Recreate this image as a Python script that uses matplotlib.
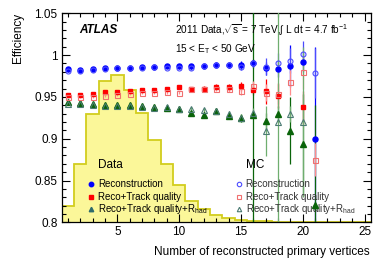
import numpy as np
import matplotlib
matplotlib.use('Agg')
import matplotlib.pyplot as plt
from matplotlib.ticker import MultipleLocator

plt.rcParams['font.family'] = ['Liberation Sans', 'DejaVu Sans']
plt.rcParams['mathtext.fontset'] = 'custom'
plt.rcParams['mathtext.rm'] = 'Liberation Sans'
plt.rcParams['mathtext.it'] = 'Liberation Sans:italic'

# --- DATA ---
nvtx = np.arange(1, 22)

data_reco = [0.983, 0.9826, 0.9835, 0.984, 0.9846, 0.985, 0.986, 0.986, 0.9864, 0.9866, 0.9866,
             0.987, 0.9886, 0.988, 0.9886, 0.990, 0.984, 0.9835, 0.9874, 0.9918, 0.900]
data_reco_err = [0.001, 0.001, 0.001, 0.001, 0.001, 0.001, 0.001, 0.001, 0.001, 0.0015, 0.0015,
                 0.002, 0.002, 0.003, 0.004, 0.005, 0.008, 0.010, 0.025, 0.012, 0.11]
mc_reco = [0.981, 0.981, 0.982, 0.983, 0.984, 0.984, 0.985, 0.986, 0.985, 0.985, 0.984,
           0.987, 0.9886, 0.988, 0.986, 0.990, 0.986, 0.990, 0.9934, 1.0014, 0.979]
mc_reco_err = [0.001, 0.001, 0.001, 0.001, 0.001, 0.001, 0.001, 0.001, 0.001, 0.002, 0.002,
               0.002, 0.003, 0.003, 0.004, 0.004, 0.010, 0.012, 0.015, 0.015, 0.03]

data_trk = [0.9518, 0.952, 0.954, 0.956, 0.956, 0.9566, 0.9578, 0.9586, 0.959, 0.9614, 0.9595,
            0.960, 0.9622, 0.9614, 0.9626, 0.958, 0.9566, 0.9514, np.nan, 0.9374, np.nan]
data_trk_err = [0.001, 0.001, 0.001, 0.001, 0.001, 0.001, 0.001, 0.001, 0.0015, 0.002, 0.002,
                0.003, 0.003, 0.004, 0.005, 0.006, 0.015, 0.015, 0.0, 0.02, 0.0]
mc_trk = [0.9494, 0.950, 0.950, 0.951, 0.952, 0.9535, 0.955, 0.955, 0.956, 0.955, 0.9595,
          0.960, 0.960, 0.960, 0.957, 0.963, 0.955, 0.9535, 0.9674, 0.9799, 0.875]
mc_trk_err = [0.001, 0.001, 0.001, 0.001, 0.001, 0.001, 0.001, 0.001, 0.002, 0.002, 0.002,
              0.003, 0.003, 0.004, 0.005, 0.006, 0.010, 0.012, 0.015, 0.02, 0.02]

data_rhad = [0.9434, 0.9426, 0.9418, 0.9406, 0.940, 0.940, 0.9386, 0.938, 0.9367, 0.9355, 0.9307,
             0.9287, 0.9326, 0.9275, 0.9247, 0.9287, 0.9206, 0.9295, 0.9098, 0.8939, 0.8207]
data_rhad_err = [0.001, 0.001, 0.001, 0.001, 0.001, 0.001, 0.001, 0.001, 0.0015, 0.002, 0.002,
                 0.002, 0.003, 0.004, 0.005, 0.25, 0.010, 0.010, 0.04, 0.06, 0.12]
mc_rhad = [0.942, 0.941, 0.940, 0.939, 0.939, 0.939, 0.938, 0.937, 0.9385, 0.936, 0.936,
           0.934, 0.933, 0.929, 0.925, 0.931, 0.9095, 0.920, 0.9295, 0.920, np.nan]
mc_rhad_err = [0.001, 0.001, 0.001, 0.001, 0.001, 0.001, 0.001, 0.001, 0.002, 0.002, 0.002,
               0.003, 0.003, 0.004, 0.005, 0.006, 0.03, 0.25, 0.01, 0.09, 0.0]

# primary vertex distribution in data (arbitrary units, drawn on top of y = 0.8)
vtx_edges = np.arange(0.5, 26.0, 1.0)
vtx_dist = [0.0196, 0.070, 0.1295, 0.1694, 0.1758, 0.1586, 0.1307, 0.098, 0.070, 0.0447,
            0.026, 0.016, 0.009, 0.005, 0.003, 0.0015, 0.001, 0.0007, 0.0005, 0.0003,
            0.0002, 0.0001, 0.0001, 0.0, 0.0]
Y0 = 0.8

fig = plt.figure(figsize=(3.9, 2.65), dpi=100)
ax = fig.add_axes([61.7/390, 42.7/265, 309/390, 209/265])

ax.stairs(np.array(vtx_dist) + Y0, vtx_edges, baseline=Y0, fill=True,
          color='#fbf799', zorder=1)
ax.stairs(np.array(vtx_dist) + Y0, vtx_edges, baseline=Y0, fill=False,
          color='#d2cd1e', lw=1.3, zorder=1.1)

ms = 3.6
ebkw = dict(capsize=0, elinewidth=0.9, linestyle='none', zorder=3)

# data
ax.errorbar(nvtx, data_reco, yerr=data_reco_err, fmt='o', color='#0000ff', ms=ms, **ebkw)
ax.errorbar(nvtx, data_trk, yerr=data_trk_err, fmt='s', color='#ff0000', ms=ms-0.4, **ebkw)
ax.errorbar(nvtx, data_rhad, yerr=data_rhad_err, fmt='^', color='#0a640a', ms=ms+0.4, **ebkw)
# MC
ax.errorbar(nvtx, mc_reco, yerr=mc_reco_err, fmt='o', color='#4b4bff', mfc='none', mew=0.8,
            ms=ms, **ebkw)
ax.errorbar(nvtx, mc_trk, yerr=mc_trk_err, fmt='s', color='#f07070', ecolor='#ff8c8c',
            mfc='none', mew=0.8, ms=ms, **ebkw)
ax.errorbar(nvtx, mc_rhad, yerr=mc_rhad_err, fmt='^', color='#4a7a72', ecolor='#6fae6f',
            mfc='none', mew=0.8, ms=ms+0.3, **ebkw)

ax.set_xlim(0.5, 25.5)
ax.set_ylim(0.8, 1.05)
ax.xaxis.set_major_locator(MultipleLocator(5))
ax.xaxis.set_minor_locator(MultipleLocator(1))
ax.yaxis.set_major_locator(MultipleLocator(0.05))
ax.yaxis.set_minor_locator(MultipleLocator(0.01))
ax.set_yticks([0.8, 0.85, 0.9, 0.95, 1.0, 1.05])
ax.set_yticklabels(['0.8', '0.85', '0.9', '0.95', '1', '1.05'])
ax.tick_params(which='both', direction='in', top=True, right=True, labelsize=8.5, width=0.8)
ax.tick_params(which='major', length=6)
ax.tick_params(which='minor', length=3)
ax.tick_params(axis='y', pad=3)
ax.tick_params(axis='x', pad=3)
for s in ax.spines.values():
    s.set_linewidth(0.9)

fig.text(18/390, 1 - 13/265, 'Efficiency', rotation=90, ha='center', va='top', fontsize=8.5)
fig.text(370/390, 1 - 251.7/265, 'Number of reconstructed primary vertices',
         ha='right', va='center', fontsize=8.5)

ax.text(0.056, 0.92, 'ATLAS', transform=ax.transAxes, fontsize=8.5, fontweight='bold',
        fontstyle='italic', va='center')
ax.text(0.368, 0.92, r'2011 Data,$\sqrt{\mathrm{s}}$ = 7 TeV,$\int$ L dt = 4.7 fb$^{-1}$',
        transform=ax.transAxes, fontsize=7.2, va='center')
ax.text(0.368, 0.827, r'15 < E$_\mathrm{T}$ < 50 GeV', transform=ax.transAxes,
        fontsize=7.2, va='center')

# legends
rows = [0.183, 0.1225, 0.062]
labels = ['Reconstruction', 'Reco+Track quality', r'Reco+Track quality+R$_\mathrm{had}$']
ax.text(0.1165, 0.274, 'Data', transform=ax.transAxes, fontsize=8.5, va='center')
ax.text(0.595, 0.274, 'MC', transform=ax.transAxes, fontsize=8.5, va='center')
data_h = [('o', '#0000ff'), ('s', '#ff0000'), ('^', '#2e6b6b')]
mc_h = [('o', '#4b4bff'), ('s', '#f07070'), ('^', '#4a7a72')]
for yy, lab, (dm, dc), (mm, mcol) in zip(rows, labels, data_h, mc_h):
    ax.plot([0.095], [yy], marker=dm, color=dc, ms=3.2, transform=ax.transAxes, zorder=4)
    ax.text(0.118, yy, lab, transform=ax.transAxes, fontsize=7, va='center')
    ax.plot([0.575], [yy], marker=mm, mfc='none', mec=mcol, mew=0.8, ms=3.2,
            transform=ax.transAxes, zorder=4)
    ax.text(0.595, yy, lab, transform=ax.transAxes, fontsize=7, va='center', color='#333333')

fig.savefig('out.png', dpi=100)
